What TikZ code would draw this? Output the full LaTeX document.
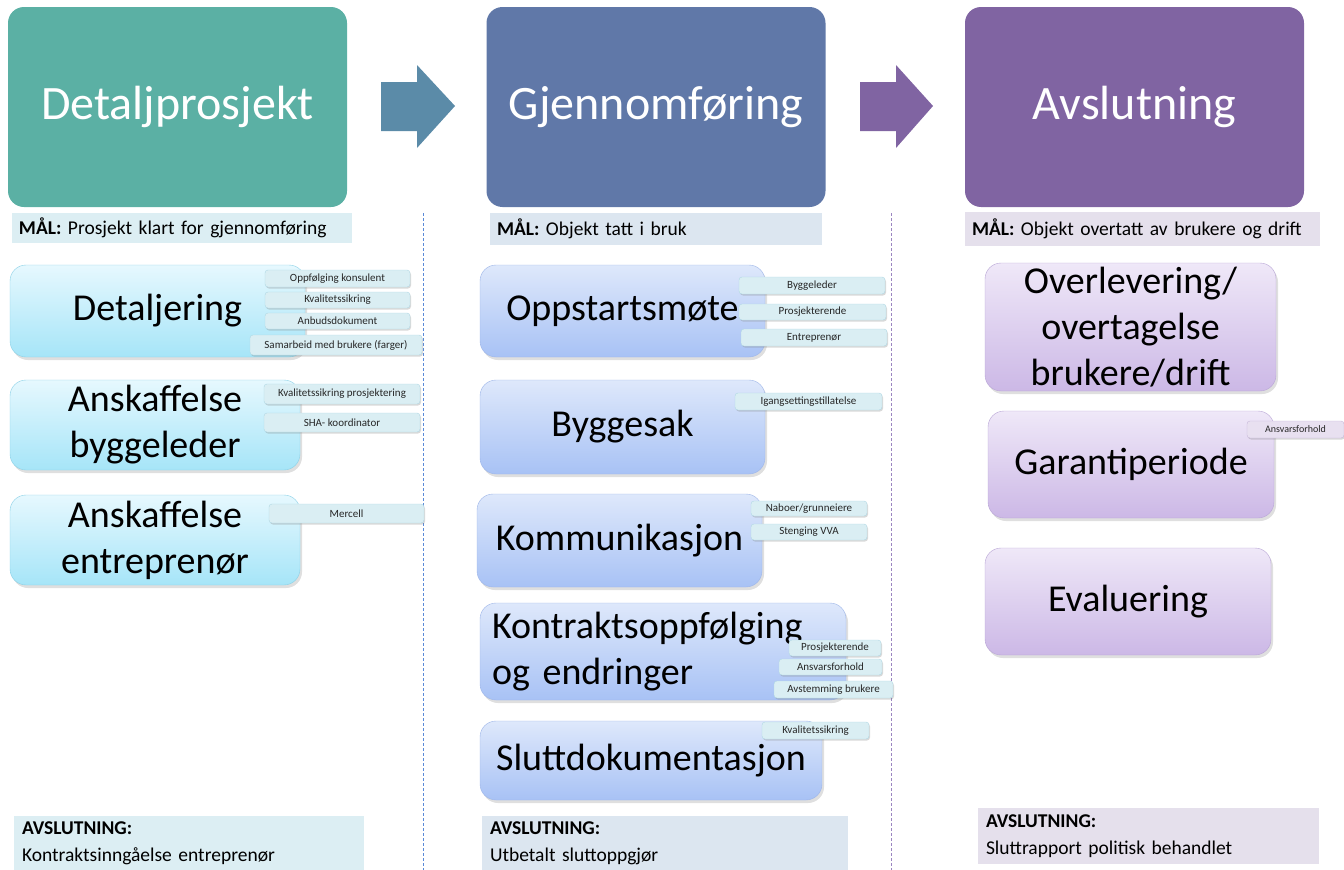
\documentclass[tikz,border=0pt]{standalone}
\usepackage{fontspec}
\setmainfont{Carlito}
\usetikzlibrary{shadows}

\definecolor{headteal}{HTML}{5BB0A4}
\definecolor{headblue}{HTML}{6078A8}
\definecolor{headpurple}{HTML}{8064A2}
\definecolor{arrowblue}{HTML}{5B8BA8}
\definecolor{goalcyan}{HTML}{DCEEF3}
\definecolor{goalblue}{HTML}{DCE6F0}
\definecolor{goallilac}{HTML}{E5E0EC}
\definecolor{cyantop}{HTML}{E6F8FE}
\definecolor{cyanbottom}{HTML}{A6E5F8}
\definecolor{cyanline}{HTML}{8AD0E6}
\definecolor{bluetop}{HTML}{DEE8FB}
\definecolor{bluebottom}{HTML}{A8C2F5}
\definecolor{blueline}{HTML}{9DB5E8}
\definecolor{lilactop}{HTML}{EFE8F8}
\definecolor{lilacbottom}{HTML}{CCB8E6}
\definecolor{lilacline}{HTML}{B8A5D5}
\definecolor{tagcyan}{HTML}{DAEEF3}
\definecolor{tagcyanline}{HTML}{B0D8E4}
\definecolor{taglilac}{HTML}{E8E0F0}
\definecolor{taglilacline}{HTML}{C8B8DA}
\definecolor{sepblue}{HTML}{5A8AD8}
\definecolor{seppurple}{HTML}{9A85C0}

\begin{document}
\begin{tikzpicture}[x=1pt, y=-1pt,
    phase/.style = {fill=#1, rounded corners=16pt, minimum width=339pt, minimum height=200pt,
                    text=white, font=\fontsize{48}{56}\selectfont},
    goal/.style = {fill=#1, inner xsep=7pt, inner ysep=0pt, align=left,
                   font=\fontsize{19.5}{22}\selectfont},
    closing/.style = {fill=#1, inner xsep=8pt, inner ysep=0pt, align=left,
                      font=\fontsize{19.5}{27}\selectfont},
    stepbox/.style = {rounded corners=16pt, align=center, inner sep=0pt,
                      font=\fontsize{38}{46}\selectfont,
                      drop shadow={shadow xshift=2pt, shadow yshift=-3pt, opacity=0.25}},
    cyanstep/.style = {stepbox, draw=cyanline, top color=cyantop, bottom color=cyanbottom},
    bluestep/.style = {stepbox, draw=blueline, top color=bluetop, bottom color=bluebottom},
    lilacstep/.style = {stepbox, draw=lilacline, top color=lilactop, bottom color=lilacbottom},
    tag/.style = {draw=#1line, fill=#1, rounded corners=3pt, inner sep=0pt,
                  font=\fontsize{11}{13}\selectfont, text=black!85,
                  drop shadow={shadow xshift=1pt, shadow yshift=-1.5pt, opacity=0.3}},
    sep/.style = {#1, line width=1pt, dash pattern=on 3pt off 2pt}
  ]
  \useasboundingbox (0,0) rectangle (1344,870);

  % phases
  \node[phase=headteal] (detalj) at (177.5,107) {Detaljprosjekt};
  \node[phase=headblue] (gjenn) at (656,107) {Gjennomføring};
  \node[phase=headpurple] (avsl) at (1134.5,107) {Avslutning};

  \fill[arrowblue] (381,82) -- (417,82) -- (417,65) -- (455,106) -- (417,148) -- (417,131) -- (381,131) -- cycle;
  \fill[headpurple] (860,82) -- (896,82) -- (896,65) -- (933,106) -- (896,148) -- (896,131) -- (860,131) -- cycle;

  % goals
  \node[goal=goalcyan, minimum height=30pt, text width=326pt] (maal1) at (182,228)
    {\textbf{MÅL:} Prosjekt klart for gjennomføring};
  \node[goal=goalblue, minimum height=32pt, text width=318pt] (maal2) at (656,229)
    {\textbf{MÅL:} Objekt tatt i bruk};
  \node[goal=goallilac, minimum height=34pt, text width=341pt] (maal3) at (1142.5,229)
    {\textbf{MÅL:} Objekt overtatt av brukere og drift};

  % column separators
  \draw[sep=sepblue] (423,213) -- (423,870);
  \draw[sep=seppurple] (891,213) -- (891,870);

  % detaljprosjekt
  \node[cyanstep, minimum width=295pt, minimum height=92pt] (detaljering) at (157.5,311) {Detaljering};
  \node[cyanstep, minimum width=290pt, minimum height=90pt] (bygglederanskaff) at (155,425) {Anskaffelse\\byggeleder};
  \node[cyanstep, minimum width=290pt, minimum height=90pt] (entranskaff) at (155,540) {Anskaffelse\\entreprenør};

  \node[tag=tagcyan, minimum width=145pt, minimum height=17pt] (konsulent) at (337.5,278.5) {Oppfølging konsulent};
  \node[tag=tagcyan, minimum width=145pt, minimum height=16pt] (kvalitet1) at (337.5,300) {Kvalitetssikring};
  \node[tag=tagcyan, minimum width=145pt, minimum height=16pt] (anbud) at (337.5,321) {Anbudsdokument};
  \node[tag=tagcyan, minimum width=172pt, minimum height=20pt] (samarbeid) at (336,345) {Samarbeid med brukere (farger)};
  \node[tag=tagcyan, minimum width=156pt, minimum height=20pt] (kvalprosj) at (342,394) {Kvalitetssikring prosjektering};
  \node[tag=tagcyan, minimum width=156pt, minimum height=19pt] (sha) at (342,422.5) {SHA- koordinator};
  \node[tag=tagcyan, minimum width=155pt, minimum height=19pt] (mercell) at (346.5,513.5) {Mercell};

  % gjennomføring
  \node[bluestep, minimum width=285pt, minimum height=92pt] (oppstart) at (622.5,311) {Oppstartsmøte};
  \node[bluestep, minimum width=285pt, minimum height=94pt] (byggesak) at (622.5,427) {Byggesak};
  \node[bluestep, minimum width=285pt, minimum height=93pt] (kommunikasjon) at (619.5,540.5) {Kommunikasjon};
  \node[bluestep, minimum height=97pt, text width=342pt, inner xsep=12pt, align=left] (kontrakt) at (663,651.5)
    {Kontraktsoppfølging\\og endringer};
  \node[bluestep, minimum width=342pt, minimum height=79pt] (sluttdok) at (651,760.5) {Sluttdokumentasjon};

  \node[tag=tagcyan, minimum width=146pt, minimum height=17pt] (byggeleder) at (812,285.5) {Byggeleder};
  \node[tag=tagcyan, minimum width=147pt, minimum height=16pt] (prosj1) at (812.5,312) {Prosjekterende};
  \node[tag=tagcyan, minimum width=146pt, minimum height=17pt] (entreprenor) at (814,337.5) {Entreprenør};
  \node[tag=tagcyan, minimum width=147pt, minimum height=17pt] (igang) at (808.5,401.5) {Igangsettingstillatelse};
  \node[tag=tagcyan, minimum width=116pt, minimum height=15pt] (naboer) at (809,508.5) {Naboer/grunneiere};
  \node[tag=tagcyan, minimum width=116pt, minimum height=16pt] (stenging) at (809,532) {Stenging VVA};
  \node[tag=tagcyan, minimum width=92pt, minimum height=16pt] (prosj2) at (835,648) {Prosjekterende};
  \node[tag=tagcyan, minimum width=103pt, minimum height=16pt] (ansvar1) at (830.5,667) {Ansvarsforhold};
  \node[tag=tagcyan, minimum width=119pt, minimum height=17pt] (avstemming) at (833.5,689.5) {Avstemming brukere};
  \node[tag=tagcyan, minimum width=107pt, minimum height=17pt] (kvalitet2) at (815.5,730.5) {Kvalitetssikring};

  % avslutning
  \node[lilacstep, minimum width=291pt, minimum height=128pt] (overlevering) at (1130.5,327)
    {Overlevering/\\overtagelse\\brukere/drift};
  \node[lilacstep, minimum width=286pt, minimum height=107pt] (garanti) at (1131,464.5) {Garantiperiode};
  \node[lilacstep, minimum width=286pt, minimum height=107pt] (evaluering) at (1128,601.5) {Evaluering};

  \node[tag=taglilac, minimum width=97pt, minimum height=17pt, font=\fontsize{10}{12}\selectfont] (ansvar2) at (1295.5,429.5) {Ansvarsforhold};

  % closing
  \node[closing=goalcyan, minimum height=54pt, text width=334pt] (slutt1) at (189,843)
    {\textbf{AVSLUTNING:}\\Kontraktsinngåelse entreprenør};
  \node[closing=goalblue, minimum height=54pt, text width=350pt] (slutt2) at (665,843)
    {\textbf{AVSLUTNING:}\\Utbetalt sluttoppgjør};
  \node[closing=goallilac, minimum height=56pt, text width=325pt] (slutt3) at (1148.5,836)
    {\textbf{AVSLUTNING:}\\Sluttrapport politisk behandlet};
\end{tikzpicture}
\end{document}
